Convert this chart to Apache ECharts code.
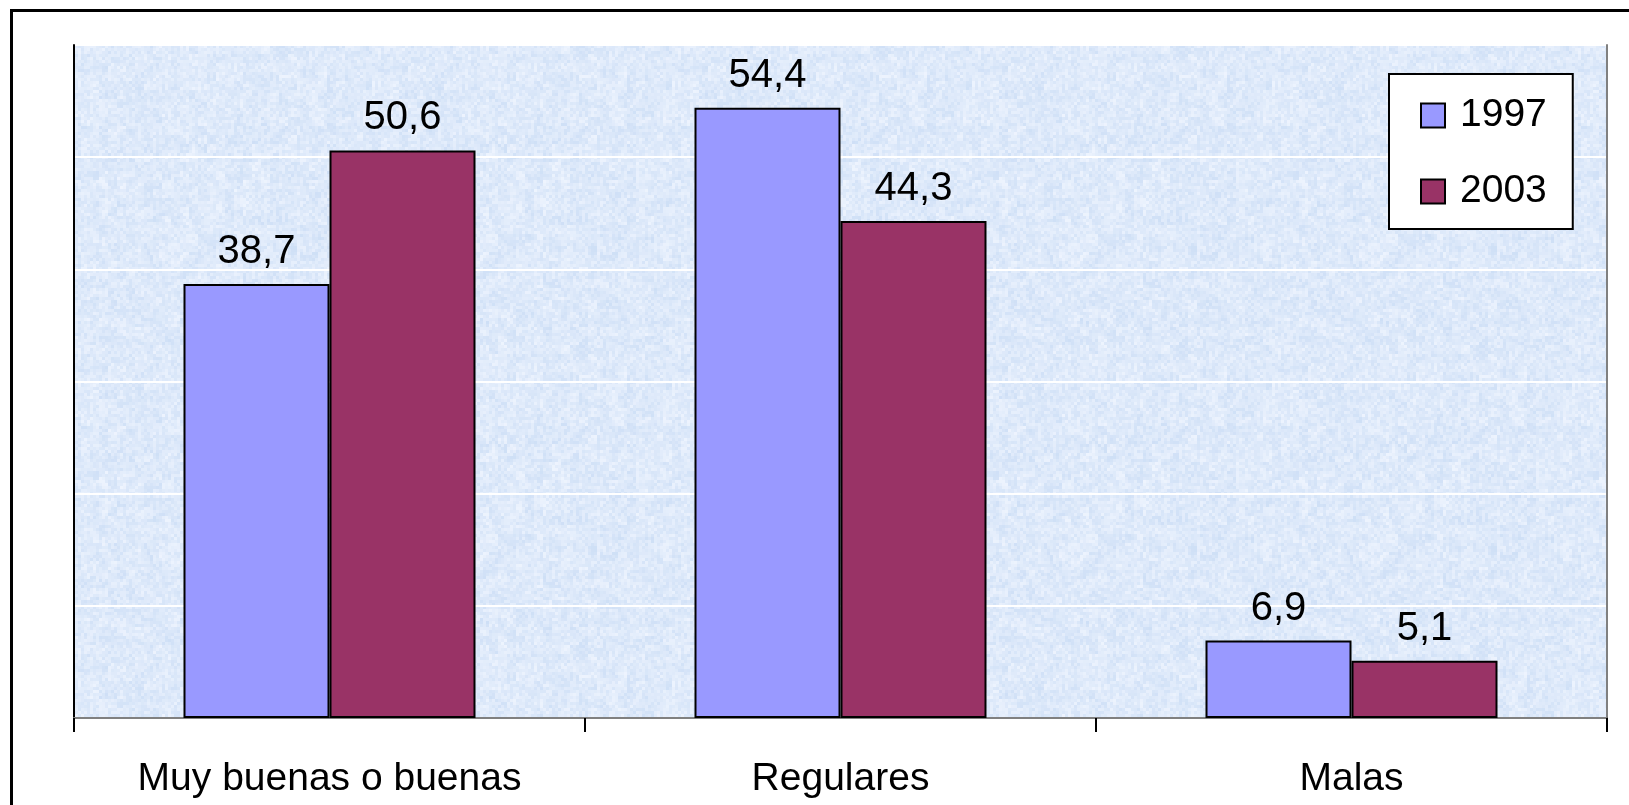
<!DOCTYPE html>
<html>
<head>
<meta charset="utf-8">
<script src="https://cdn.jsdelivr.net/npm/echarts@6/dist/echarts.min.js"></script>
<style>
html,body{margin:0;padding:0;background:#fff;}
#chart{width:1629px;height:805px;}
</style>
</head>
<body>
<div id="chart"></div>
<script>
const categories = ['Muy buenas o buenas', 'Regulares', 'Malas'];
const seriesNames = ['1997', '2003'];
const values1997 = [38.7, 54.4, 6.9];
const values2003 = [50.6, 44.3, 5.1];
const yMin = 0, yMax = 60, yInterval = 10;

const FONT = '"Liberation Sans", Arial, sans-serif';

// Deterministic light-blue mottled texture for the plot background (styling only)
function makeTexture() {
  const size = 300, cell = 3;
  const c = document.createElement('canvas');
  c.width = size; c.height = size;
  const ctx = c.getContext('2d');
  function hash(x, y, s) {
    let h = Math.imul(x + 0x9e3779b9 * s | 0, 0x85ebca6b) ^ Math.imul(y + 0x632be5ab, 0xc2b2ae35);
    h ^= h >>> 15; h = Math.imul(h, 0x2c1b3c6d);
    h ^= h >>> 12; h = Math.imul(h, 0x297a2d39);
    h ^= h >>> 15;
    return (h >>> 0) / 4294967296;
  }
  for (let y = 0; y < size; y += cell) {
    for (let x = 0; x < size; x += cell) {
      const cx = x / cell, cy = y / cell;
      const a = hash(cx, cy, 1);
      const b = hash(Math.floor(cx / 3), Math.floor(cy / 3), 2);
      const t = 0.6 * a + 0.4 * b;
      const r = Math.round(206 + t * 32);
      const g = Math.round(223 + t * 21);
      const bl = Math.round(246 + t * 8);
      ctx.fillStyle = 'rgb(' + r + ',' + g + ',' + bl + ')';
      ctx.fillRect(x, y, cell, cell);
    }
  }
  return c;
}

const chart = echarts.init(document.getElementById('chart'), null, {renderer: 'canvas'});

const labelCfg = {
  show: true,
  position: 'top',
  distance: 12,
  color: '#000',
  fontFamily: FONT,
  fontSize: 40,
  formatter: p => String(p.value).replace('.', ',')
};

chart.setOption({
  animation: false,
  backgroundColor: '#ffffff',
  graphic: [{
    type: 'rect',
    silent: true,
    z: 100,
    shape: {x: 11.5, y: 10.5, width: 1700, height: 900},
    style: {fill: 'none', stroke: '#000', lineWidth: 3}
  }],
  grid: {
    left: 74, top: 45, right: 22, bottom: 87,
    show: true,
    backgroundColor: {image: makeTexture(), repeat: 'repeat'},
    borderWidth: 0
  },
  legend: {
    orient: 'vertical',
    left: 1389, top: 74,
    width: 184,
    padding: [22, 26, 18, 31],
    backgroundColor: '#ffffff',
    borderColor: '#000',
    borderWidth: 2,
    itemWidth: 24,
    itemHeight: 24,
    itemGap: 37,
    icon: 'rect',
    textStyle: {fontFamily: FONT, fontSize: 39, color: '#000', lineHeight: 38, padding: [0, 0, 0, 10]},
    data: seriesNames
  },
  xAxis: [{
    type: 'category',
    data: categories,
    axisLine: {lineStyle: {color: '#000', width: 2}},
    axisTick: {show: true, length: 14, lineStyle: {color: '#000', width: 2}},
    axisLabel: {fontFamily: FONT, fontSize: 39, color: '#000', margin: 42}
  }, {
    type: 'category',
    position: 'top',
    data: categories,
    axisLine: {show: true, lineStyle: {color: '#808080', width: 2}},
    axisTick: {show: false},
    axisLabel: {show: false},
    splitLine: {show: false}
  }],
  yAxis: [{
    type: 'value',
    min: yMin, max: yMax, interval: yInterval,
    axisLine: {show: true, lineStyle: {color: '#000', width: 2}},
    axisTick: {show: false},
    axisLabel: {show: false},
    splitLine: {show: true, lineStyle: {color: '#ffffff', width: 2}}
  }, {
    type: 'value',
    position: 'right',
    min: yMin, max: yMax, interval: yInterval,
    axisLine: {show: true, lineStyle: {color: '#808080', width: 2}},
    axisTick: {show: false},
    axisLabel: {show: false},
    splitLine: {show: false}
  }],
  series: [
    {
      name: seriesNames[0], type: 'bar', data: values1997,
      barWidth: 146, barGap: '0%',
      itemStyle: {color: '#9999ff', borderColor: '#000', borderWidth: 2},
      label: labelCfg
    },
    {
      name: seriesNames[1], type: 'bar', data: values2003,
      barWidth: 146, barGap: '0%',
      itemStyle: {color: '#993366', borderColor: '#000', borderWidth: 2},
      label: labelCfg
    }
  ]
});
</script>
</body>
</html>
